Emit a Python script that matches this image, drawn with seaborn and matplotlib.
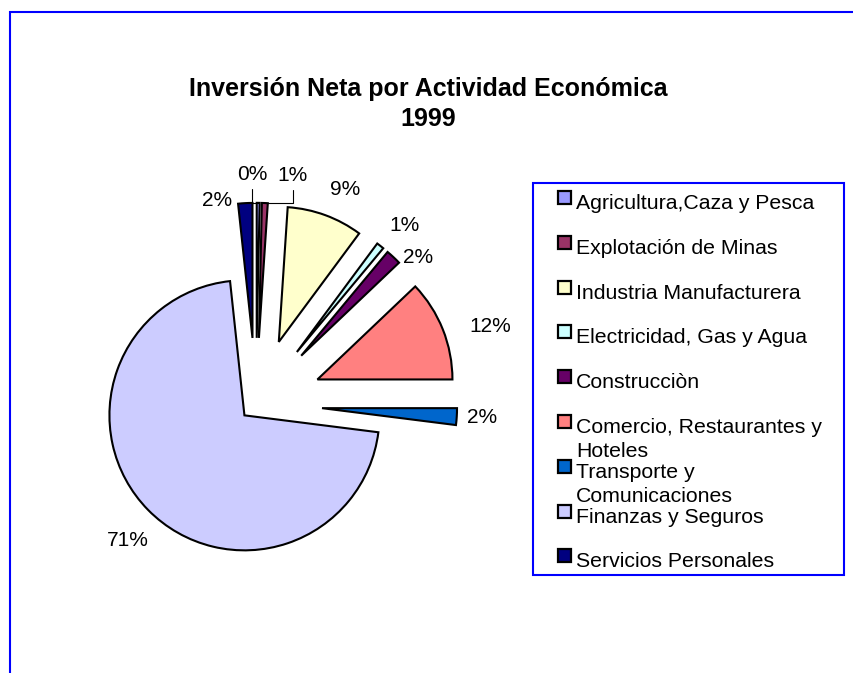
import matplotlib
matplotlib.use("Agg")
import matplotlib.pyplot as plt
from matplotlib.patches import Rectangle
import numpy as np
import seaborn as sns

# Data (percent of net investment, 1999)
categories = ["Agricultura,Caza y Pesca", "Explotación de Minas", "Industria Manufacturera",
              "Electricidad, Gas y Agua", "Construcciòn", "Comercio, Restaurantes y Hoteles",
              "Transporte y Comunicaciones", "Finanzas y Seguros", "Servicios Personales"]
legend_labels = ["Agricultura,Caza y Pesca", "Explotación de Minas", "Industria Manufacturera",
                 "Electricidad, Gas y Agua", "Construcciòn", "Comercio, Restaurantes y\nHoteles",
                 "Transporte y\nComunicaciones", "Finanzas y Seguros", "Servicios Personales"]
shares = [0.35, 0.7, 9.1, 0.9, 1.85, 12.1, 2.0, 71.3, 1.7]
colors = ["#9999FF", "#993366", "#FFFFCC", "#CCFFFF", "#660066",
          "#FF8080", "#0066CC", "#CCCCFF", "#000080"]
title_lines = ["Inversión Neta por Actividad Económica", "1999"]

sns.set_theme(style="white")
plt.rcParams["font.family"] = ["Liberation Sans", "DejaVu Sans"]
plt.rcParams["text.color"] = "black"

W, H = 854, 673
fig = plt.figure(figsize=(W / 100, H / 100), dpi=100)
fig.patch.set_facecolor("white")
ax = fig.add_axes([0, 0, 1, 1])

# pie geometry in pixels
R = 135
cx, cy = 256, 404
explode = [0.49] * len(shares)
explode[7] = 0.12

wedges, _ = ax.pie(shares, colors=sns.color_palette(colors), startangle=90,
                   counterclock=False, explode=explode,
                   wedgeprops=dict(edgecolor="black", linewidth=1.5))
ax.set_xlim(-cx / R, (W - cx) / R)
ax.set_ylim(-(H - cy) / R, cy / R)
ax.set_aspect("equal")
ax.axis("off")

# percentage labels, nudged like the Excel placement
label_dist = [1.21, 1.23, 1.23, 1.23, 1.13, 1.34, 1.19, 1.27, 1.05]
label_turn = [2.3, -9.3, -3.3, -2.4, -7.0, -4.6, 0.1, 2.5, 11.4]
total = sum(shares)
for i, w in enumerate(wedges):
    mid = (w.theta1 + w.theta2) / 2
    a = np.deg2rad(mid + label_turn[i])
    x0, y0 = w.center
    pos = (x0 + label_dist[i] * np.cos(a), y0 + label_dist[i] * np.sin(a))
    txt = f"{round(shares[i] / total * 100):.0f}%"
    if i < 2:
        tip = (x0 + w.r * np.cos(np.deg2rad(mid)), y0 + w.r * np.sin(np.deg2rad(mid)))
        ax.annotate(txt, xy=tip, xytext=pos, ha="center", va="center", fontsize=15,
                    color="black",
                    arrowprops=dict(arrowstyle="-", color="black", lw=0.8,
                                    relpos=(0.5, 0), shrinkA=1, shrinkB=0,
                                    connectionstyle="angle,angleA=90,angleB=0,rad=0"))
    else:
        ax.text(pos[0], pos[1], txt, ha="center", va="center", fontsize=15, color="black")

# title
fig.text(428 / W, 1 - 96 / H, title_lines[0], ha="center", va="baseline",
         fontsize=18, fontweight="bold", color="black")
fig.text(428 / W, 1 - 126 / H, title_lines[1], ha="center", va="baseline",
         fontsize=18, fontweight="bold", color="black")

# outer blue frame (only top and left visible)
fig.patches.append(Rectangle((10 / W, -0.1), 2.0, 1 - 12 / H + 0.1, transform=fig.transFigure,
                             fill=False, edgecolor="#0000FF", lw=1.5))

# legend box drawn by hand to mimic the fixed Excel slots
lx0, ly0, lx1, ly1 = 533, 183, 844, 575
fig.patches.append(Rectangle((lx0 / W, 1 - ly1 / H), (lx1 - lx0) / W, (ly1 - ly0) / H,
                             transform=fig.transFigure, fill=False,
                             edgecolor="#0000FF", lw=1.5))
for i, (lab, col) in enumerate(zip(legend_labels, colors)):
    yc = 197.5 + 44.8 * i
    fig.patches.append(Rectangle((558 / W, 1 - (yc + 6.5) / H), 13 / W, 13 / H,
                                 transform=fig.transFigure, facecolor=col,
                                 edgecolor="black", lw=1.6))
    fig.text(576 / W, 1 - (yc - 3.5) / H, lab, ha="left", va="top",
             fontsize=15.3, linespacing=1.33, color="black")

fig.savefig("out.png", dpi=100)
